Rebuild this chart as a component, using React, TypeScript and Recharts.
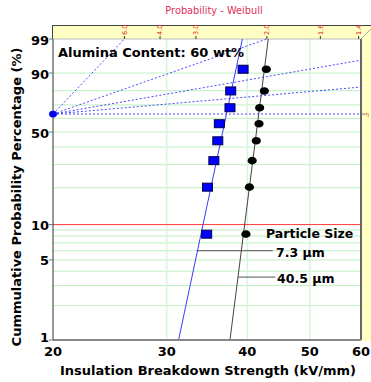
import { ComposedChart, XAxis, YAxis, Scatter, Line, ReferenceLine } from "recharts";

// cumulative probability (%) of the ranked breakdowns, shared by both samples
const probability = [8.3, 20.2, 32.1, 44.0, 56.0, 67.9, 79.8, 91.7];
const strength7_3 = [34.6, 34.7, 35.5, 36.0, 36.2, 37.6, 37.7, 39.4];
const strength40_5 = [39.8, 40.3, 40.7, 41.3, 41.7, 41.8, 42.5, 42.8];

// fitted Weibull lines (end points at 1 % and 99 %)
const fitProbability = [1, 99];
const fit7_3 = [31.3, 39.3];
const fit40_5 = [37.6, 43.1];

const xTicks = [20, 30, 40, 50, 60];
const yTickLabels = [1, 5, 10, 50, 90, 99];
const gridX = [30, 40, 50];
const gridProbability = [2, 3, 4, 5, 6, 7, 8, 9, 20, 30, 40, 50, 60, 70, 80, 90];

// shape-parameter nomograph, pivot at 63.2 %
const pivotX = 20;
const pivotP = 63.2;
const nomoEndX = [25.8, 42.9, 60, 60, 60];
const nomoEndP = [99, 99, 95.0, 82.3, 63.2];
const shapeLabels = ["6.0", "4.0", "3.0", "2.0", "1.6", "1.4"];
const shapeX = [25.8, 29.3, 33.3, 42.9, 51.9, 59.5];

// leader lines for the particle size labels
const leader7_3 = { x: [33.4, 43.8], p: 6.0 };
const leader40_5 = { x: [38.7, 44.2], p: 3.55 };

const font = "'DejaVu Sans', Verdana, sans-serif";

// Weibull probability paper: ln(-ln(1 - F))
const w = (p: number) => Math.log(-Math.log(1 - p / 100));

const points = (xs: number[]) => xs.map((x, i) => ({ x, y: w(probability[i]) }));
const fitLine = (xs: number[]) => xs.map((x, i) => ({ x, y: w(fitProbability[i]) }));
const nomoLines = nomoEndX.map((x, i) => [
  { x: pivotX, y: w(pivotP) },
  { x, y: w(nomoEndP[i]) },
]);
const shapeTicks = shapeLabels.map((label, i) => ({ x: shapeX[i], y: w(99), label }));

const Square = (props: any) => (
  <rect x={props.cx - 5} y={props.cy - 4} width={10} height={8} fill="#0000ff" stroke="#00004a" strokeWidth={1} />
);
const Oval = (props: any) => <ellipse cx={props.cx} cy={props.cy} rx={4.6} ry={3.8} fill="#000" />;
const Pivot = (props: any) => <ellipse cx={props.cx} cy={props.cy} rx={4} ry={3.4} fill="#0000ee" />;
const ShapeTick = (props: any) => {
  const { cx, cy, payload } = props;
  return (
    <g>
      <line x1={cx} y1={cy} x2={cx} y2={cy - 3} stroke="#333" />
      <text transform={`translate(${cx + 2.2}, ${cy - 4}) rotate(-90)`} fontSize={6.5} fill="#e02020" fontFamily={font}>
        {payload.label}
      </text>
    </g>
  );
};
const EdgeTick = (props: any) => {
  const { cx, cy } = props;
  return (
    <g>
      <line x1={cx} y1={cy} x2={cx + 4} y2={cy} stroke="#777" />
      <text x={cx + 4.5} y={cy + 2} fontSize={5.5} fill="#e02020" fontFamily={font}>
        η
      </text>
    </g>
  );
};
const YTick = (props: any) => {
  const { x, y, index } = props;
  const label = yTickLabels[index];
  return (
    <text x={x} y={y + (label === 1 ? 1.5 : 5.5)} textAnchor="end" fontSize={13} fontWeight="bold" fill="#000" fontFamily={font}>
      {label}
    </text>
  );
};

export default function App() {
  return (
    <div style={{ position: "absolute", left: 0, top: 0, width: 371, height: 382, background: "#fff", fontFamily: font }}>
      <svg width={371} height={382} style={{ position: "absolute", left: 0, top: 0 }}>
        <rect x={52} y={25} width={319} height={14} fill="#ffffc4" />
        <rect x={361} y={25} width={10} height={316} fill="#ffffc4" />
        <line x1={52} y1={25.5} x2={371} y2={25.5} stroke="#444" />
        <line x1={52.5} y1={25} x2={52.5} y2={39} stroke="#444" />
        <line x1={361} y1={39} x2={371} y2={29} stroke="#aaa" />
      </svg>
      <div style={{ position: "absolute", left: 0, top: 0 }}>
        <ComposedChart width={371} height={382} margin={{ top: 39, right: 10, bottom: 0, left: 0 }}>
          <XAxis
            type="number"
            dataKey="x"
            scale="log"
            domain={[20, 60]}
            ticks={xTicks}
            height={42}
            tickLine={false}
            tickSize={5}
            tickMargin={2}
            axisLine={{ stroke: "#888", strokeWidth: 2 }}
            tick={{ fill: "#000", fontSize: 13, fontWeight: "bold", fontFamily: font }}
          />
          <YAxis
            type="number"
            dataKey="y"
            domain={[w(1), w(99)]}
            ticks={yTickLabels.map(w)}
            width={53}
            tickSize={4}
            tickMargin={0}
            tickLine={{ stroke: "#777" }}
            axisLine={{ stroke: "#333" }}
            tick={YTick}
          />
          {gridProbability.map((p) => (
            <ReferenceLine key={"gy" + p} y={w(p)} stroke="#c0f0c0" strokeWidth={1} />
          ))}
          {gridX.map((x) => (
            <ReferenceLine key={"gx" + x} x={x} stroke="#d8f6d8" strokeWidth={1.5} />
          ))}
          <ReferenceLine y={w(10)} stroke="#ff3b3b" strokeWidth={1} />
          <ReferenceLine y={w(99)} stroke="#bbb" strokeWidth={1} />
          <ReferenceLine x={60} stroke="#666" strokeWidth={2} />
          {nomoLines.map((d, i) => (
            <Line
              key={"n" + i}
              data={d}
              dataKey="y"
              type="linear"
              stroke="#4a4aff"
              strokeWidth={1}
              strokeDasharray="2 2"
              dot={false}
              isAnimationActive={false}
            />
          ))}
          <ReferenceLine
            segment={[
              { x: leader7_3.x[0], y: w(leader7_3.p) },
              { x: leader7_3.x[1], y: w(leader7_3.p) },
            ]}
            stroke="#555"
          />
          <ReferenceLine
            segment={[
              { x: leader40_5.x[0], y: w(leader40_5.p) },
              { x: leader40_5.x[1], y: w(leader40_5.p) },
            ]}
            stroke="#555"
          />
          <Line data={fitLine(fit7_3)} dataKey="y" type="linear" stroke="#3a3aff" strokeWidth={1} dot={false} isAnimationActive={false} />
          <Line data={fitLine(fit40_5)} dataKey="y" type="linear" stroke="#444" strokeWidth={1} dot={false} isAnimationActive={false} />
          <Scatter data={shapeTicks} dataKey="y" shape={ShapeTick} isAnimationActive={false} />
          <Scatter data={[{ x: 60, y: w(pivotP) }]} dataKey="y" shape={EdgeTick} isAnimationActive={false} />
          <Scatter data={[{ x: pivotX, y: w(pivotP) }]} dataKey="y" shape={Pivot} isAnimationActive={false} />
          <Scatter data={points(strength7_3)} dataKey="y" shape={Square} isAnimationActive={false} />
          <Scatter data={points(strength40_5)} dataKey="y" shape={Oval} isAnimationActive={false} />
        </ComposedChart>
      </div>
      <svg width={371} height={382} style={{ position: "absolute", left: 0, top: 0, pointerEvents: "none" }}>
        <text x={214} y={13.5} textAnchor="middle" fontSize={9.8} fill="#e0305a" fontFamily={font}>
          Probability - Weibull
        </text>
        <text x={58} y={57} fontSize={13} fontWeight="bold" fill="#000" fontFamily={font}>
          Alumina Content: 60 wt%
        </text>
        <text x={266} y={238} fontSize={12.5} fontWeight="bold" fill="#000" fontFamily={font}>
          Particle Size
        </text>
        <text x={276} y={257} fontSize={12.5} fontWeight="bold" fill="#000" fontFamily={font}>
          7.3 μm
        </text>
        <text x={277} y={283} fontSize={12.5} fontWeight="bold" fill="#000" fontFamily={font}>
          40.5 μm
        </text>
        <text x={208} y={375} textAnchor="middle" fontSize={13} fontWeight="bold" fill="#000" fontFamily={font}>
          Insulation Breakdown Strength (kV/mm)
        </text>
        <text
          transform="translate(21, 197) rotate(-90)"
          textAnchor="middle"
          fontSize={13}
          fontWeight="bold"
          fill="#000"
          fontFamily={font}
        >
          Cummulative Probability Percentage (%)
        </text>
      </svg>
    </div>
  );
}
